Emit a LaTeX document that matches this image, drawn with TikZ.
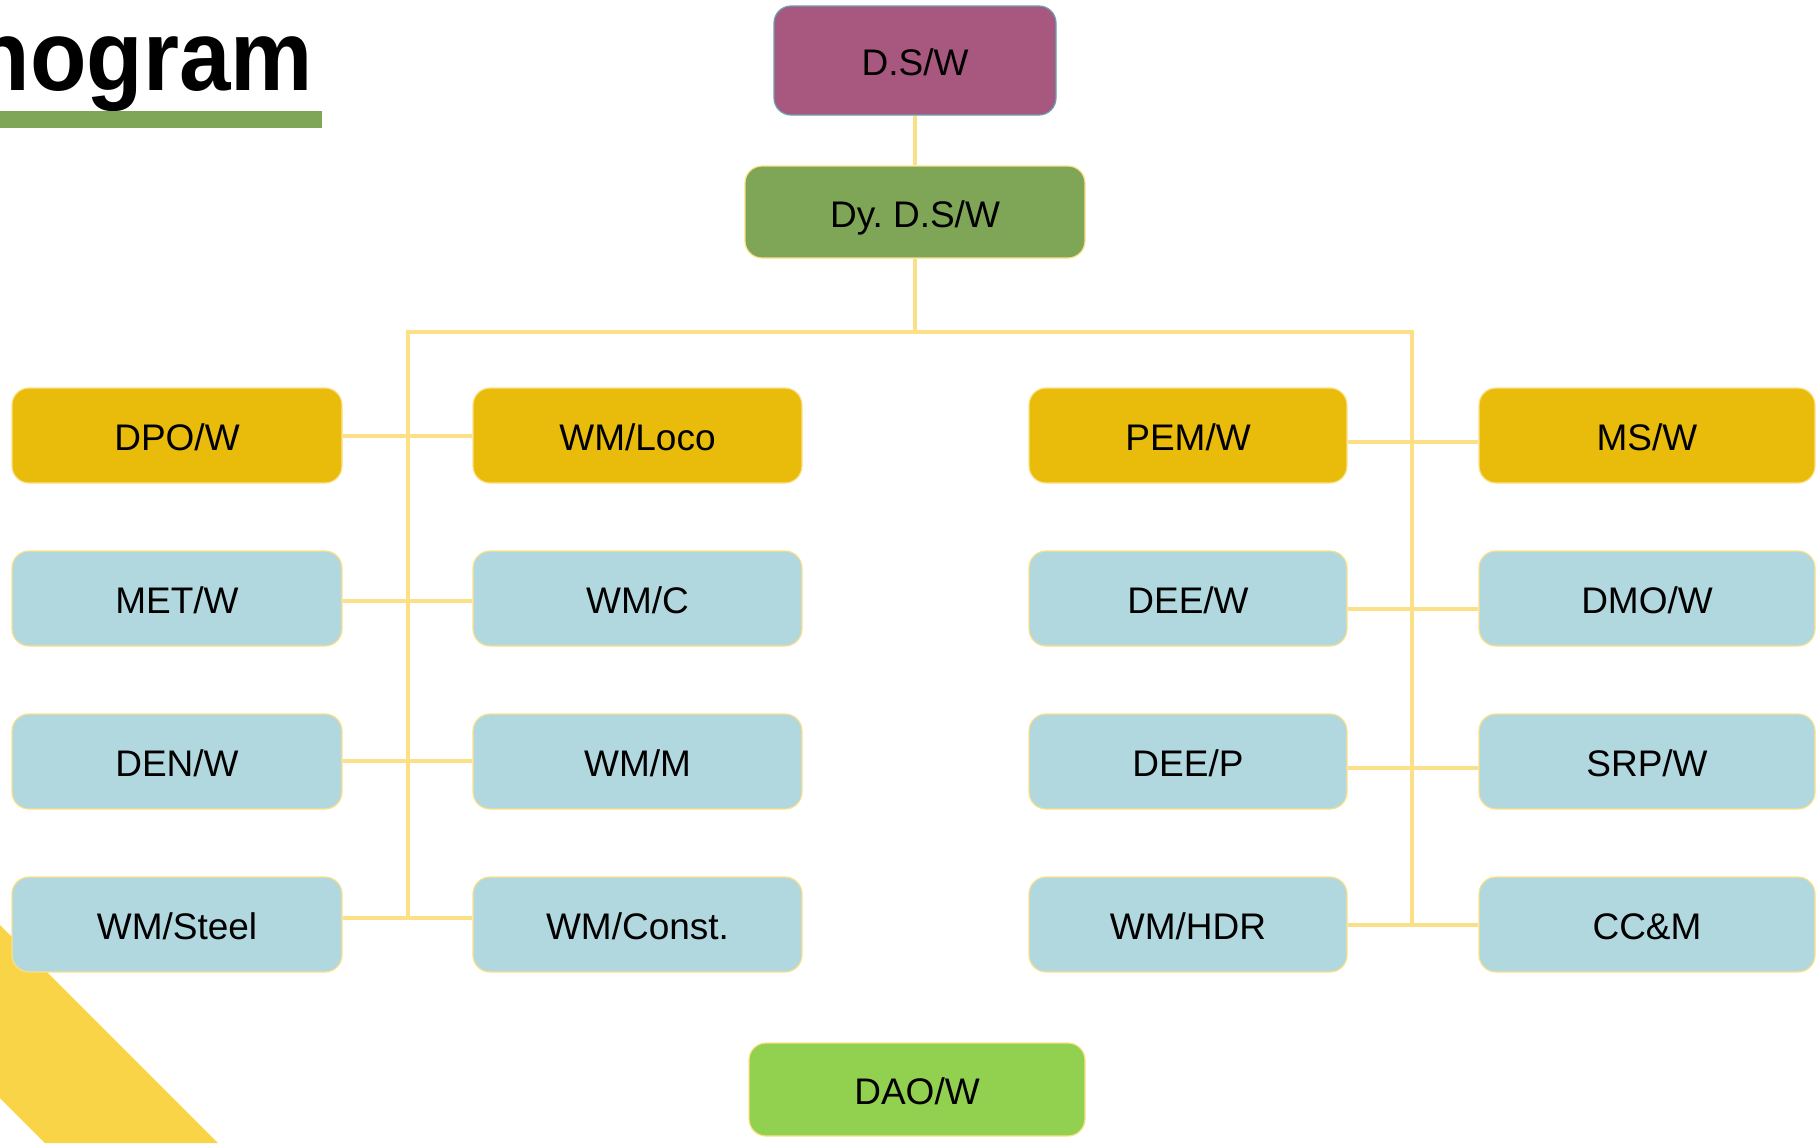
\documentclass[tikz,border=0pt]{standalone}
\usepackage{fontspec}
\setmainfont{Liberation Sans}
\usetikzlibrary{backgrounds}
\definecolor{dsP}{HTML}{A8577E}
\definecolor{dsBorder}{HTML}{6B9FB3}
\definecolor{dyG}{HTML}{7EA656}
\definecolor{goldY}{HTML}{E9BB0A}
\definecolor{lblue}{HTML}{B1D8DF}
\definecolor{daoG}{HTML}{92D050}
\definecolor{lineY}{HTML}{FCE088}
\definecolor{stripeY}{HTML}{F9D447}
\frenchspacing
\begin{document}
\begin{tikzpicture}[x=1pt,y=-1pt,
  box/.style={draw=lineY, line width=1.2pt, rounded corners=17pt, inner sep=0pt,
              text=black, font=\fontsize{37}{44}\selectfont, minimum height=95pt,
              text height=30pt, text depth=0pt},
  ybox/.style={box, fill=goldY},
  bbox/.style={box, fill=lblue},
  colA/.style={minimum width=330pt},
  colB/.style={minimum width=329pt},
  colC/.style={minimum width=318pt},
  colD/.style={minimum width=336pt},
  conn/.style={draw=lineY, line width=4pt},
  titlefont/.style={font=\fontsize{100}{100}\selectfont\bfseries}
]
\useasboundingbox (0,0) rectangle (1817,1143);

% title
\begin{scope}
\clip (0,0) rectangle (1817,1143);
\node[titlefont, anchor=base east, inner sep=0pt] (title) at (313,90) {\scalebox{0.925}[1]{nogram}};
\end{scope}
\fill[dyG] (0,111) rectangle (322,128);

% top nodes
\node[box, draw=dsBorder, fill=dsP, minimum width=282pt, minimum height=109pt] (ds) at (915,60.5) {D.S/W};
\node[box, fill=dyG, minimum width=340pt, minimum height=92pt] (dy) at (915,212) {Dy. D.S/W};

% left group
\node[ybox, colA] (dpo)   at (177,435.5) {DPO/W};
\node[bbox, colA] (met)   at (177,598.5) {MET/W};
\node[bbox, colA] (den)   at (177,761.5) {DEN/W};
\node[bbox, colA] (steel) at (177,924.5) {WM/Steel};
\node[ybox, colB] (loco)  at (637.5,435.5) {WM/Loco};
\node[bbox, colB] (wmc)   at (637.5,598.5) {WM/C};
\node[bbox, colB] (wmm)   at (637.5,761.5) {WM/M};
\node[bbox, colB] (const) at (637.5,924.5) {WM/Const.};

% right group
\node[ybox, colC] (pem)  at (1188,435.5) {PEM/W};
\node[bbox, colC] (deew) at (1188,598.5) {DEE/W};
\node[bbox, colC] (deep) at (1188,761.5) {DEE/P};
\node[bbox, colC] (hdr)  at (1188,924.5) {WM/HDR};
\node[ybox, colD] (ms)   at (1647,435.5) {MS/W};
\node[bbox, colD] (dmo)  at (1647,598.5) {DMO/W};
\node[bbox, colD] (srp)  at (1647,761.5) {SRP/W};
\node[bbox, colD] (ccm)  at (1647,924.5) {CC\&M};

% bottom
\node[box, fill=daoG, minimum width=336pt, minimum height=93pt] (dao) at (917,1089.5) {DAO/W};

% connector coordinates
\coordinate (lt) at (408,332);
\coordinate (lb) at (408,918);
\coordinate (rt) at (1412,332);
\coordinate (rb) at (1412,925);
\coordinate (l1) at (408,436);
\coordinate (l2) at (408,601);
\coordinate (l3) at (408,761);
\coordinate (l4) at (408,918);
\coordinate (r1) at (1412,442);
\coordinate (r2) at (1412,609);
\coordinate (r3) at (1412,768);
\coordinate (r4) at (1412,925);

\begin{scope}[on background layer]
\fill[stripeY] (0,925) -- (218,1143) -- (45,1143) -- (0,1098) -- cycle;
\draw[conn] (ds.south) -- (dy.north);
\draw[conn] (dy.south) -- (dy.south |- lt);
\draw[conn] (lb) -- (lt) -- (rt) -- (rb);
\draw[conn] (dpo.east |- l1) -- (loco.west |- l1);
\draw[conn] (met.east |- l2) -- (wmc.west |- l2);
\draw[conn] (den.east |- l3) -- (wmm.west |- l3);
\draw[conn] (steel.east |- l4) -- (const.west |- l4);
\draw[conn] (pem.east |- r1) -- (ms.west |- r1);
\draw[conn] (deew.east |- r2) -- (dmo.west |- r2);
\draw[conn] (deep.east |- r3) -- (srp.west |- r3);
\draw[conn] (hdr.east |- r4) -- (ccm.west |- r4);
\end{scope}
\end{tikzpicture}
\end{document}
